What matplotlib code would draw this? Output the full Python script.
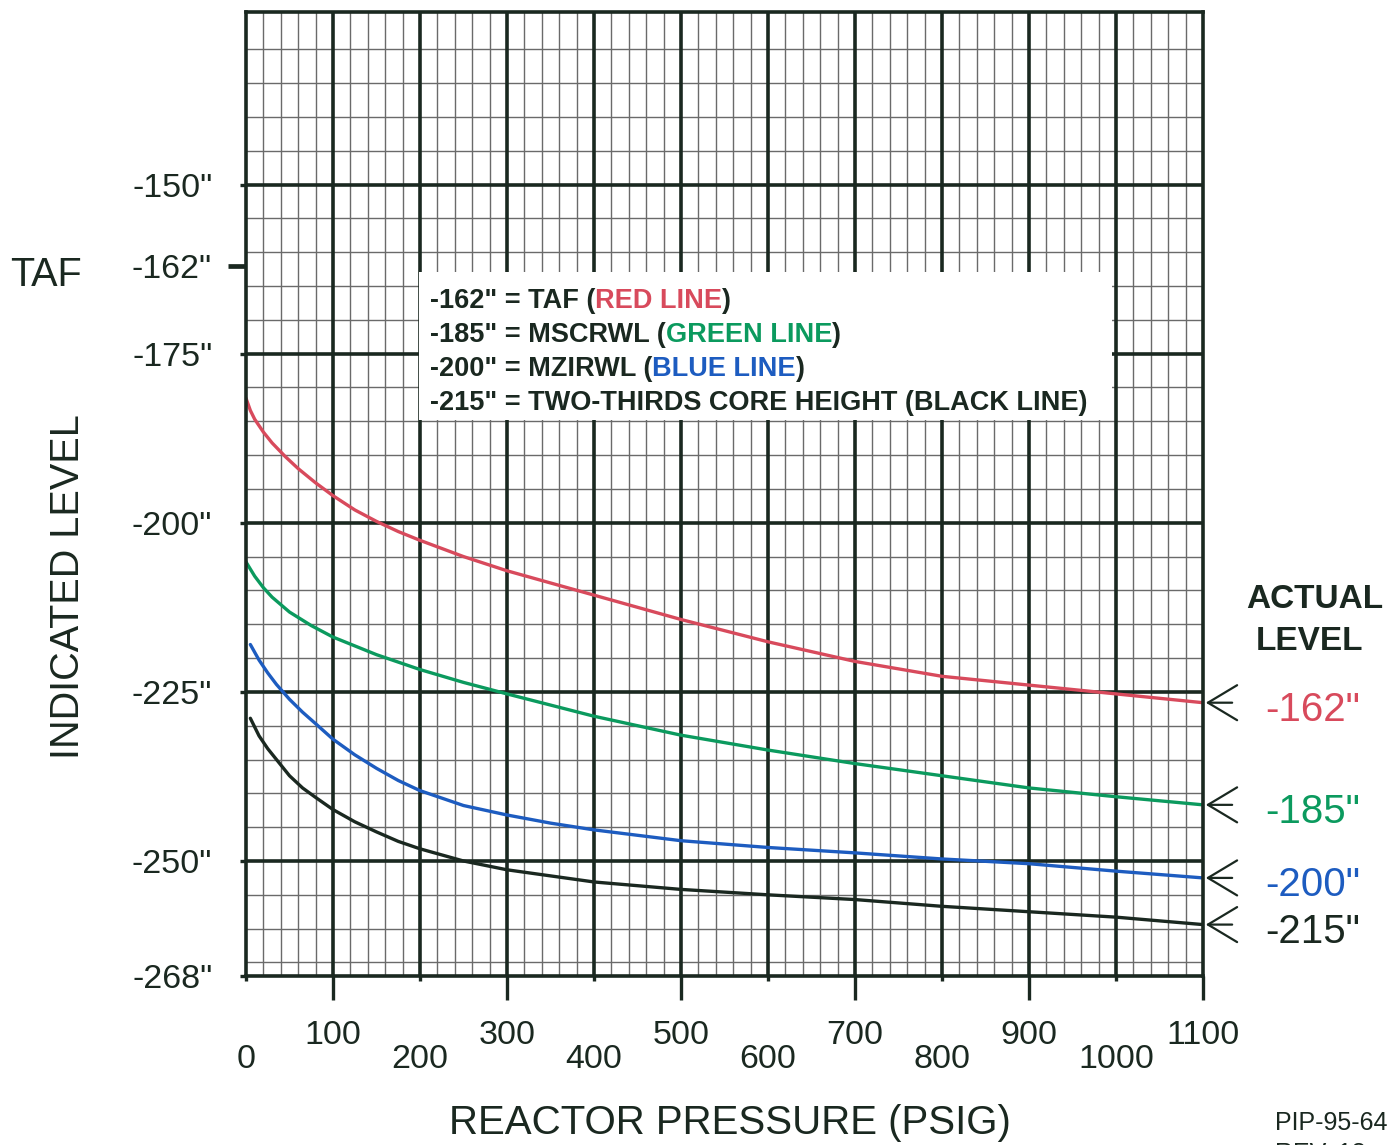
import matplotlib
matplotlib.use('Agg')
import matplotlib.pyplot as plt
from matplotlib.patches import Rectangle
import numpy as np

plt.rcParams['font.family'] = ['Liberation Sans', 'DejaVu Sans']

# reactor pressure (psig) vs indicated level (inches)
red_p = [0, 5, 10, 20, 30, 45, 60, 80, 100, 125, 150, 175, 200, 250, 300, 400, 500,
         600, 700, 800, 900, 1000, 1100]
red_lvl = [-181.6, -183.4, -184.7, -186.6, -188.2, -190.2, -192, -194.1, -196, -198.1,
           -199.8, -201.3, -202.6, -205, -207.1, -210.7, -214.3, -217.6, -220.5,
           -222.7, -224, -225.3, -226.6]

green_p = [0, 10, 20, 30, 50, 75, 100, 150, 200, 250, 300, 400, 500, 600, 700, 800,
           900, 1000, 1100]
green_lvl = [-205.8, -207.9, -209.6, -211, -213.2, -215.2, -216.9, -219.5, -221.7,
             -223.6, -225.3, -228.6, -231.4, -233.6, -235.6, -237.4, -239.2, -240.5,
             -241.7]

blue_p = [5, 15, 25, 35, 50, 65, 80, 100, 125, 150, 175, 200, 250, 300, 350, 400, 500,
          600, 700, 800, 900, 1000, 1100]
blue_lvl = [-218, -220.3, -222.2, -223.9, -226.1, -228, -229.7, -232, -234.3, -236.3,
            -238.1, -239.6, -241.8, -243.2, -244.4, -245.4, -247, -248, -248.8,
            -249.7, -250.4, -251.5, -252.5]

black_p = [5, 15, 25, 35, 50, 65, 80, 100, 125, 150, 175, 200, 250, 300, 400, 500,
           600, 700, 800, 900, 1000, 1100]
black_lvl = [-228.9, -231.5, -233.4, -235, -237.4, -239.2, -240.6, -242.4, -244.2,
             -245.7, -247.1, -248.2, -250, -251.3, -253.1, -254.2, -255, -255.7,
             -256.7, -257.5, -258.3, -259.4]

actual_labels = ['-162"', '-185"', '-200"', '-215"']
ytick_vals = [-150, -175, -200, -225, -250]
ytick_labels = ['-150"', '-175"', '-200"', '-225"', '-250"']
bottom_label = '-268"'
taf_val = -162
taf_label = '-162"'
even_ticks = [0, 200, 400, 600, 800, 1000]
odd_ticks = [100, 300, 500, 700, 900, 1100]

dark = '#1a2820'
red = '#d84a5c'
green = '#0b9a5e'
blue = '#1d5cc0'
minor_c = '#6a6a6a'

W, H = 1398, 1145
fig = plt.figure(figsize=(W / 100, H / 100), dpi=100)
ax = fig.add_axes([246 / W, 1 - 976 / H, 957 / W, 964 / H])
ax.set_xlim(0, 1100)
ax.set_ylim(-267, -124.5)

# graph paper grid
for v in np.arange(20, 1100, 20):
    if v % 100:
        ax.axvline(v, color=minor_c, lw=1.0, zorder=1)
for v in np.arange(-265, -125, 5):
    if v not in ytick_vals:
        ax.axhline(v, color=minor_c, lw=1.0, zorder=1)
for v in range(100, 1100, 100):
    ax.axvline(v, color=dark, lw=2.6, zorder=1.5)
for v in ytick_vals:
    ax.axhline(v, color=dark, lw=2.6, zorder=1.5)
for s in ax.spines.values():
    s.set_linewidth(2.6)
    s.set_color(dark)
    s.set_zorder(4)

# white box behind the legend text
ax.add_patch(Rectangle((0.181, 0.577), 0.724, 0.153, transform=ax.transAxes,
                       fc='white', ec='none', zorder=2))

series = [(red_p, red_lvl, red), (green_p, green_lvl, green),
          (blue_p, blue_lvl, blue), (black_p, black_lvl, dark)]
for p, lvl, c in series:
    ax.plot(p, lvl, color=c, lw=2.4, zorder=3, solid_capstyle='round',
            solid_joinstyle='round')

# ticks
ax.set_xticks(even_ticks, labels=[str(v) for v in even_ticks])
ax.set_xticks(odd_ticks, labels=[str(v) for v in odd_ticks], minor=True)
ax.tick_params(axis='x', which='major', length=3.6, width=2.4, pad=45,
               labelsize=24.5, colors=dark)
ax.tick_params(axis='x', which='minor', length=17, width=2.4, pad=14.5,
               labelsize=24.5, colors=dark)

ylo = ax.get_ylim()[0]
ax.set_yticks(ytick_vals + [ylo], labels=ytick_labels + [bottom_label])
ax.set_yticks([taf_val], labels=[taf_label], minor=True)
ax.tick_params(axis='y', which='major', length=4.3, width=2.4, pad=20,
               labelsize=24.5, colors=dark)
ax.tick_params(axis='y', which='minor', length=13, width=3.4, pad=11.5,
               labelsize=24.5, colors=dark)
for lab in ax.get_yticklabels() + ax.get_yticklabels(minor=True):
    lab.set_va('center_baseline')

# arrows and actual level labels on the right
for (p, lvl, c), lab in zip(series, actual_labels):
    ax.annotate('', xy=(p[-1], lvl[-1]), xytext=(23, 0), textcoords='offset points',
                arrowprops=dict(arrowstyle='->, head_length=0.75, head_width=0.45',
                                mutation_scale=28, lw=1.6, color=dark),
                annotation_clip=False)
    ax.annotate(lab, xy=(1313 / W, lvl[-1]), xycoords=('figure fraction', 'data'),
                xytext=(0, -13), textcoords='offset points', ha='center',
                va='baseline', fontsize=29, color=c, annotation_clip=False)

fig.text(1315 / W, 1 - 608 / H, 'ACTUAL', fontsize=24, fontweight='bold',
         ha='center', va='baseline', color=dark)
fig.text(1310 / W, 1 - 650 / H, 'LEVEL', fontsize=24, fontweight='bold',
         ha='center', va='baseline', color=dark)

# axis titles
fig.text(68 / W, 1 - 587 / H, 'INDICATED LEVEL', rotation=90, fontsize=28.5,
         ha='center', va='center', color=dark)
fig.text(10 / W, 1 - 286 / H, 'TAF', fontsize=28.5, ha='left', va='baseline', color=dark)
fig.text(730 / W, 1 - 1134 / H, 'REACTOR PRESSURE (PSIG)', fontsize=29,
         ha='center', va='baseline', color=dark)
fig.text(1275 / W, 1 - 1130 / H, 'PIP-95-64', fontsize=18, ha='left',
         va='baseline', color=dark)
fig.text(1275 / W, 1 - 1161 / H, 'REV. 18', fontsize=18, ha='left',
         va='baseline', color=dark)

# legend text, coloured words drawn piece by piece
legend_lines = [
    [('-162" = TAF (', dark), ('RED LINE', red), (')', dark)],
    [('-185" = MSCRWL (', dark), ('GREEN LINE', green), (')', dark)],
    [('-200" = MZIRWL (', dark), ('BLUE LINE', blue), (')', dark)],
    [('-215" = TWO-THIRDS CORE HEIGHT (BLACK LINE)', dark)],
]
renderer = fig.canvas.get_renderer()
base = 308
for pieces in legend_lines:
    x = 430
    for txt, c in pieces:
        t = fig.text(x / W, 1 - base / H, txt, fontsize=19.5, fontweight='bold',
                     color=c, ha='left', va='baseline', zorder=5)
        x += t.get_window_extent(renderer).width
    base += 34

fig.savefig('out.png', dpi=100, facecolor='white')
